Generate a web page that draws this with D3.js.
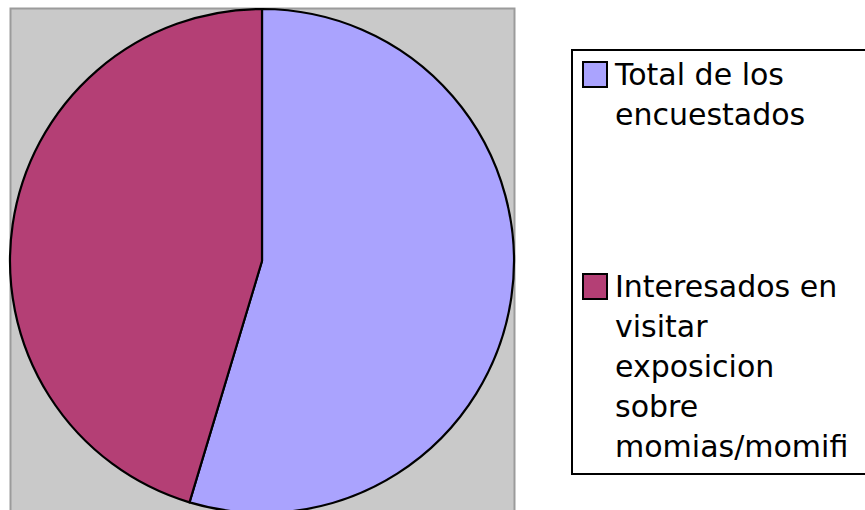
<!DOCTYPE html>
<html><head><meta charset="utf-8">
<script src="https://cdn.jsdelivr.net/npm/d3@7"></script>
<style>html,body{margin:0;padding:0;background:#fff;overflow:hidden}</style>
</head><body>
<svg id="c" width="865" height="510"></svg>
<script>
const categories = ["Total de los encuestados", "Interesados en visitar exposicion sobre momias/momifi"];
const values = [100, 83];
const legendLines = [["Total de los", "encuestados"], ["Interesados en", "visitar", "exposicion", "sobre", "momias/momifi"]];
const colors = ["#aaa3fe", "#b43f75"];

const svg = d3.select("#c");
// plot area
svg.append("rect").attr("x", 10.5).attr("y", 8.5).attr("width", 504).attr("height", 520)
  .attr("fill", "#c9c9c9").attr("stroke", "#9b9b9b").attr("stroke-width", 2);

const cx = 262, cy = 261, r = 252;
const pie = d3.pie().sort(null).value(d => d)(values);
const arc = d3.arc().innerRadius(0).outerRadius(r);
const g = svg.append("g").attr("transform", `translate(${cx},${cy})`);
g.selectAll("path").data(pie).join("path")
  .attr("d", arc)
  .attr("fill", (d, i) => colors[i])
  .attr("stroke", "#000").attr("stroke-width", 2.2).attr("stroke-linejoin", "round");

// legend
svg.append("rect").attr("x", 572).attr("y", 50).attr("width", 320).attr("height", 424)
  .attr("fill", "#fff").attr("stroke", "#000").attr("stroke-width", 2);
const lineH = 40;
const starts = [85, 297];
categories.forEach((c, i) => {
  const by = starts[i];
  svg.append("rect").attr("x", 583).attr("y", by - 23).attr("width", 24).attr("height", 25)
    .attr("fill", colors[i]).attr("stroke", "#000").attr("stroke-width", 2);
  const t = svg.append("text").attr("x", 615).attr("y", by)
    .attr("font-family", "DejaVu Sans, sans-serif").attr("font-size", 30).attr("fill", "#000");
  legendLines[i].forEach((ln, j) => {
    t.append("tspan").attr("x", 615).attr("y", by + j * lineH).text(ln);
  });
});
</script>
</body></html>
